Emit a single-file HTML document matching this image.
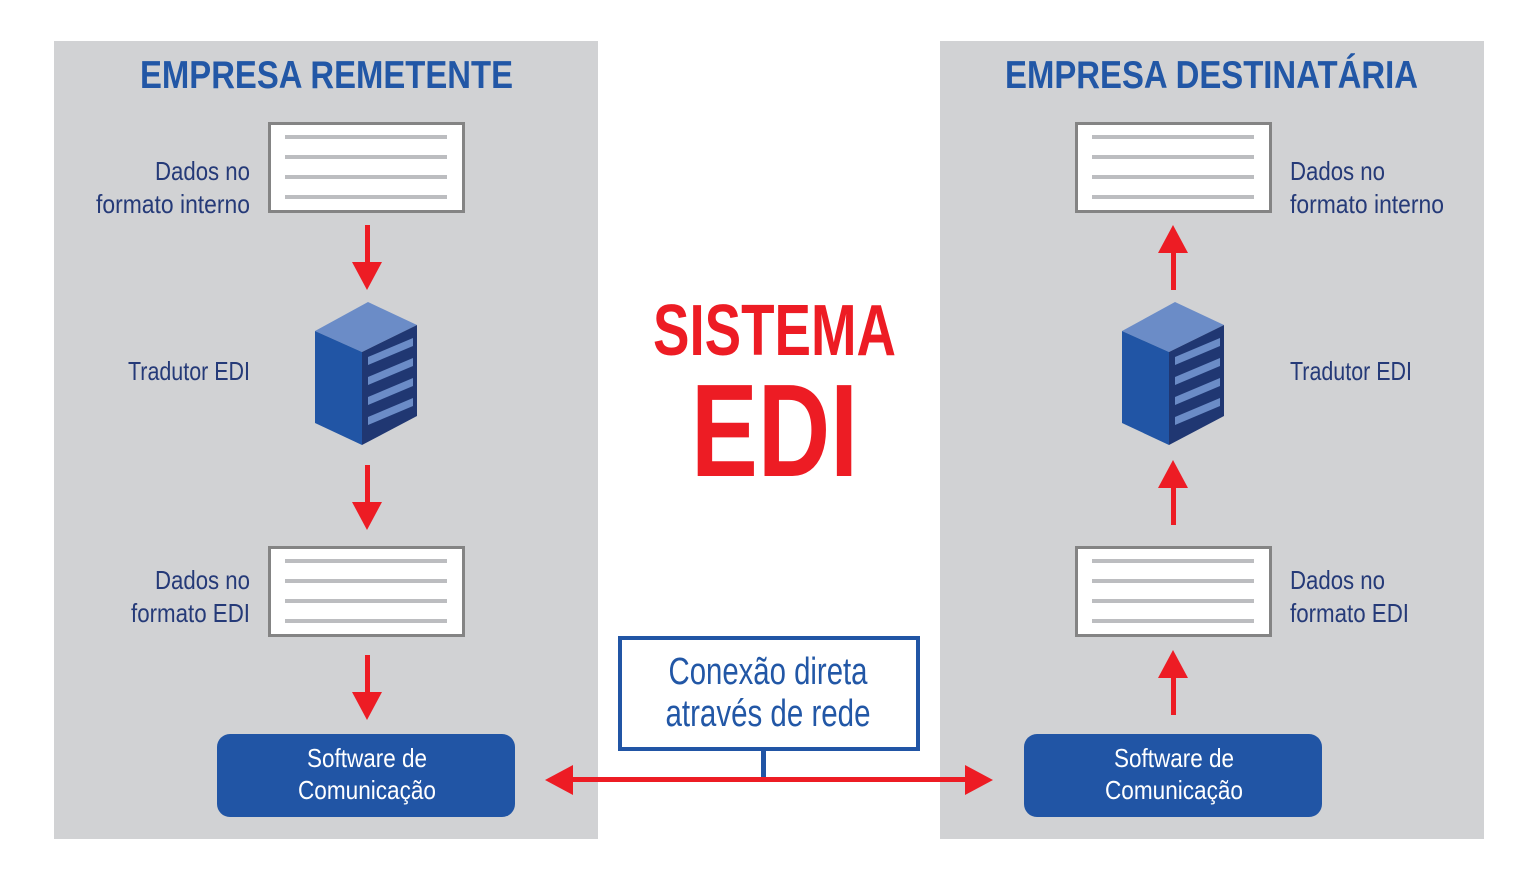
<!DOCTYPE html>
<html><head><meta charset="utf-8"><style>html,body{margin:0;padding:0;background:#fff}svg{display:block}</style></head>
<body>
<svg width="1539" height="881" viewBox="0 0 1539 881" xmlns="http://www.w3.org/2000/svg" font-family="'Liberation Sans Narrow','Liberation Sans',sans-serif">
<defs>
<g id="doc">
<rect x="269.5" y="123.5" width="194" height="88" fill="#fff" stroke="#848484" stroke-width="3"/>
<g stroke="#bcbdc0" stroke-width="4"><line x1="285" y1="137" x2="447" y2="137"/><line x1="285" y1="157" x2="447" y2="157"/><line x1="285" y1="177" x2="447" y2="177"/><line x1="285" y1="197" x2="447" y2="197"/></g>
</g>
<g id="srv">
<polygon points="368,302 417,325 362,352 315,331" fill="#6b8cc7"/>
<polygon points="315,331 362,352 362,445 315,423" fill="#2155a5"/>
<polygon points="362,352 417,325 417,416 362,445" fill="#203772"/>
<g fill="#6b8cc7">
<polygon points="368,357 413,338 413,346 368,365"/>
<polygon points="368,377 413,358 413,366 368,385"/>
<polygon points="368,397 413,378 413,386 368,405"/>
<polygon points="368,417 413,398 413,406 368,425"/>
</g>
</g>
<g id="down"><rect x="365" y="0" width="5" height="45" fill="#ed1c24"/><polygon points="352,37 382,37 367,65" fill="#ed1c24"/></g>
<g id="up"><rect x="1171" y="20" width="5" height="45" fill="#ed1c24"/><polygon points="1158,28 1188,28 1173,0" fill="#ed1c24"/></g>
</defs>
<rect x="54" y="41" width="544" height="798" fill="#d1d2d4"/>
<rect x="940" y="41" width="544" height="798" fill="#d1d2d4"/>
<g font-weight="bold" fill="#2257a6" font-size="39">
<text x="140" y="88" textLength="373" lengthAdjust="spacingAndGlyphs">EMPRESA REMETENTE</text>
<text x="1005" y="88" textLength="413" lengthAdjust="spacingAndGlyphs">EMPRESA DESTINATÁRIA</text>
</g>
<use href="#doc"/>
<use href="#doc" y="424"/>
<use href="#doc" x="807"/>
<use href="#doc" x="807" y="424"/>
<use href="#srv"/>
<use href="#srv" x="807"/>
<use href="#down" y="225"/>
<use href="#down" y="465"/>
<use href="#down" y="655"/>
<use href="#up" y="225"/>
<use href="#up" y="460"/>
<use href="#up" y="650"/>
<g fill="#253a78" font-size="26">
<text x="250" y="180" text-anchor="end" textLength="95" lengthAdjust="spacingAndGlyphs">Dados no</text>
<text x="250" y="213" text-anchor="end" textLength="154" lengthAdjust="spacingAndGlyphs">formato interno</text>
<text x="250" y="380" text-anchor="end" textLength="122" lengthAdjust="spacingAndGlyphs">Tradutor EDI</text>
<text x="250" y="589" text-anchor="end" textLength="95" lengthAdjust="spacingAndGlyphs">Dados no</text>
<text x="250" y="622" text-anchor="end" textLength="119" lengthAdjust="spacingAndGlyphs">formato EDI</text>
<text x="1290" y="180" textLength="95" lengthAdjust="spacingAndGlyphs">Dados no</text>
<text x="1290" y="213" textLength="154" lengthAdjust="spacingAndGlyphs">formato interno</text>
<text x="1290" y="380" textLength="122" lengthAdjust="spacingAndGlyphs">Tradutor EDI</text>
<text x="1290" y="589" textLength="95" lengthAdjust="spacingAndGlyphs">Dados no</text>
<text x="1290" y="622" textLength="119" lengthAdjust="spacingAndGlyphs">formato EDI</text>
</g>
<rect x="217" y="734" width="298" height="83" rx="13" fill="#2155a5"/>
<rect x="1024" y="734" width="298" height="83" rx="13" fill="#2155a5"/>
<g fill="#fff" font-size="26" text-anchor="middle">
<text x="367" y="767" textLength="120" lengthAdjust="spacingAndGlyphs">Software de</text>
<text x="367" y="799" textLength="138" lengthAdjust="spacingAndGlyphs">Comunicação</text>
<text x="1174" y="767" textLength="120" lengthAdjust="spacingAndGlyphs">Software de</text>
<text x="1174" y="799" textLength="138" lengthAdjust="spacingAndGlyphs">Comunicação</text>
</g>
<g font-weight="bold" fill="#ed1c24">
<text x="653" y="355" font-size="72" textLength="243" lengthAdjust="spacingAndGlyphs">SISTEMA</text>
<text x="691" y="476" font-size="132" textLength="167" lengthAdjust="spacingAndGlyphs">EDI</text>
</g>
<rect x="620" y="638" width="298" height="111" fill="#fff" stroke="#2155a5" stroke-width="4"/>
<rect x="761" y="749" width="5" height="30" fill="#2155a5"/>
<g fill="#2257a6" font-size="38" text-anchor="middle">
<text x="768" y="684" textLength="199" lengthAdjust="spacingAndGlyphs">Conexão direta</text>
<text x="768" y="726" textLength="205" lengthAdjust="spacingAndGlyphs">através de rede</text>
</g>
<rect x="570" y="777" width="398" height="5" fill="#ed1c24"/>
<polygon points="545,780 573,765 573,795" fill="#ed1c24"/>
<polygon points="993,780 965,765 965,795" fill="#ed1c24"/>
</svg>
</body></html>
